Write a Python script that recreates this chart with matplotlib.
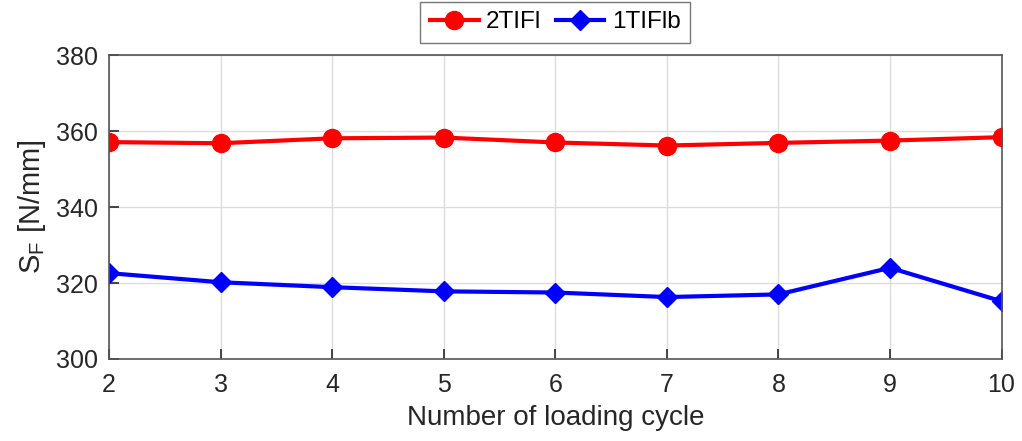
import matplotlib.pyplot as plt
import numpy as np

plt.rcParams['font.family'] = ['Liberation Sans', 'DejaVu Sans']

# Data
cycles = [2, 3, 4, 5, 6, 7, 8, 9, 10]
sf_2tifl = [357.1, 356.8, 358.1, 358.3, 357.0, 356.2, 356.9, 357.5, 358.4]
sf_1tiflb = [322.6, 320.2, 318.9, 317.8, 317.5, 316.3, 317.0, 324.0, 315.2]

dark = '#262626'

fig = plt.figure(figsize=(10.22, 4.41), dpi=100)
ax = fig.add_axes([0.1067, 0.186, 0.8733, 0.689])

ax.plot(cycles, sf_2tifl, color='red', lw=3, marker='o', ms=13, label='2TIFl')
ax.plot(cycles, sf_1tiflb, color='blue', lw=3, marker='D', ms=10, label='1TIFlb')

ax.set_xlim(2, 10)
ax.set_ylim(300, 380)
ax.set_xticks(cycles)
ax.set_yticks(np.arange(300, 381, 20))
ax.grid(True, color='#dcdcdc', lw=1)
ax.set_axisbelow(True)
ax.tick_params(direction='in', labelsize=18, colors=dark, length=7, width=1.2)
ax.tick_params(axis='x', pad=10)
ax.tick_params(axis='y', pad=8)
for s in ax.spines.values():
    s.set_color('#555555')
    s.set_linewidth(1.2)

ax.set_xlabel('Number of loading cycle', fontsize=20, color=dark, labelpad=6)
ax.set_ylabel(r'S$_\mathregular{F}$ [N/mm]', fontsize=21, color=dark, labelpad=6)

leg = ax.legend(loc='lower center', bbox_to_anchor=(0.5, 1.0), ncol=2,
                fontsize=17.5, frameon=True, fancybox=False, edgecolor='#555555',
                handlelength=2.0, columnspacing=0.6, handletextpad=0.3,
                borderpad=0.4)
leg.get_frame().set_linewidth(1.0)

fig.savefig('out.png', dpi=100)
